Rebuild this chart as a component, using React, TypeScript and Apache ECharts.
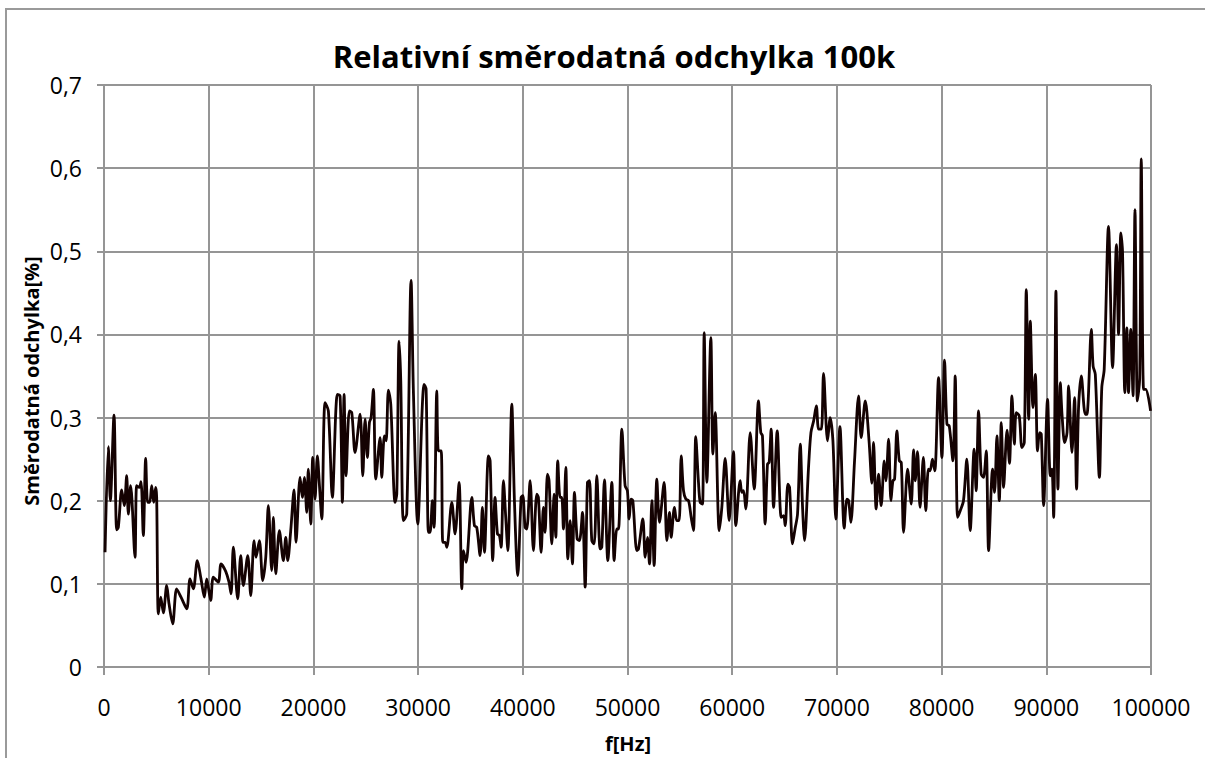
import React, { useEffect, useRef } from "react";
import * as echarts from "echarts";

const chartTitle = "Relativní směrodatná odchylka 100k";
const xAxisTitle = "f[Hz]";
const yAxisTitle = "Směrodatná odchylka[%]";

const freqs: number[] = [
  100, 415, 605, 955, 1210, 1370, 1690, 1940, 2165, 2325, 2545, 2960, 3120, 3370, 3535, 3755, 3980, 4170, 4360, 4555, 4745, 4935, 5030,
  5190, 5415, 5670, 5990, 6210, 6560, 6940, 7355, 7900, 8215, 8535, 8915, 9265, 9585, 9810, 10190, 10445, 10920, 11180, 11625,
  11940, 12135, 12355, 12770, 13060, 13310, 13730, 14015, 14330, 14520, 14840, 15160, 15450, 15700, 16015, 16175, 16405, 16750,
  17130, 17360, 17550, 17835, 18150, 18340, 18725, 18945, 19140, 19365, 19515, 19750, 19940, 20155, 20380, 20570, 20800, 21110,
  21430, 21810, 22290, 22550, 22770, 22930, 23120, 23435, 23665, 23980,
  24460, 24715, 24935, 25155, 25350, 25510, 25730, 25960, 26370, 26530, 26780, 26945, 27165, 27390, 27800, 27965, 28185, 28345,
  28595, 28915, 29330, 29550, 29970, 30570, 30765, 30985, 31140, 31365, 31530, 31785, 31940, 32200, 32360, 32580, 32740, 33220,
  33530, 33915, 34175, 34330, 34585, 35130, 35380, 35600, 35920, 36140, 36335,
  36720, 36880, 37130, 37350, 37580, 37770, 37930, 38150, 38370, 38570, 38950, 39200, 39520, 39840, 40000, 40220, 40380, 40700,
  41015, 41335, 41490, 41750, 41970, 42130, 42355, 42510, 42770, 42990, 43150, 43340, 43560, 43720, 43880, 44110, 44300, 44520,
  44740, 44935, 45190, 45410, 45700, 45955, 46175, 46365, 46590, 46815, 47070, 47385, 47545, 47800, 48120, 48505, 48725, 48980,
  49140, 49460,
  49770, 49990, 50160, 50350, 50510, 50890, 51050, 51465, 51690, 51910, 52100, 52330, 52545, 52800, 53055, 53500, 53755, 54010,
  54170, 54485, 54710, 54930, 55130, 55350, 55575, 55830, 56080, 56300, 56520, 56780, 56940, 57165, 57325, 57580, 57960, 58155,
  58375, 58760, 59010, 59330, 59710, 60120, 60350, 60760, 60920, 61080, 61300, 61720,
  62100, 62510, 62730, 62890, 63150, 63370, 63530, 63720, 63950, 64300, 64680, 64905, 65060, 65320, 65480, 65760, 66000, 66240,
  66500, 66720, 66910, 67290, 67520, 67780, 68035, 68260, 68515, 68725, 69105, 69360, 69620, 69900, 70290, 70700, 70955, 71120,
  71335, 71685, 72070, 72320, 72710, 73070, 73340, 73500, 73750,
  73980, 74230, 74520, 74680, 74940, 75160, 75350, 75510, 75730, 75960, 76150, 76370, 76750, 77100, 77320, 77480, 77700, 77940,
  78260, 78490, 78740, 78900, 79130, 79350, 79710, 80030, 80280, 80510, 80730, 81080, 81300, 81525, 81780, 82090, 82410, 82730,
  83110, 83300, 83530, 83780, 84000, 84260, 84490, 84870, 85060, 85285, 85510, 85700, 85920, 86250, 86480, 86720,
  86950, 87130, 87415, 87670, 87900, 88090, 88315, 88470, 88730, 88950, 89165, 89360, 89520, 89740, 90120, 90380, 90540, 90700,
  90920, 91110, 91340, 91500, 91750, 91980, 92130, 92450, 92700, 92890, 93080, 93340, 93720, 93880, 94300, 94470, 94680, 95070,
  95300, 95530, 95940, 96330, 96700, 96900, 97120, 97280, 97500, 97690, 97850, 98070, 98280, 98470, 98700, 98920, 99070, 99290,
  99500, 99960,
];

const deviation: number[] = [
  0.138, 0.265, 0.2, 0.303, 0.165, 0.168, 0.213, 0.194, 0.23, 0.184, 0.218, 0.132, 0.218, 0.216, 0.223, 0.158, 0.251, 0.198, 0.198, 0.218, 0.198, 0.216, 0.204,
  0.064, 0.084, 0.065, 0.098, 0.076, 0.052, 0.094, 0.084, 0.07, 0.106, 0.094, 0.128, 0.106, 0.084, 0.106, 0.08, 0.108, 0.102, 0.124, 0.115,
  0.102, 0.088, 0.144, 0.082, 0.134, 0.098, 0.134, 0.086, 0.152, 0.132, 0.152, 0.104, 0.132, 0.194, 0.116, 0.18, 0.112, 0.164,
  0.128, 0.156, 0.128, 0.164, 0.213, 0.15, 0.228, 0.204, 0.228, 0.186, 0.238, 0.172, 0.252, 0.202, 0.254, 0.22, 0.178, 0.318,
  0.308, 0.204, 0.328, 0.326, 0.198, 0.328, 0.23, 0.308, 0.306, 0.258,
  0.304, 0.23, 0.298, 0.252, 0.294, 0.3, 0.334, 0.226, 0.276, 0.228, 0.278, 0.272, 0.333, 0.316, 0.198, 0.208, 0.392, 0.344,
  0.176, 0.184, 0.465, 0.332, 0.172, 0.34, 0.334, 0.162, 0.162, 0.2, 0.168, 0.332, 0.26, 0.26, 0.15, 0.15, 0.144, 0.198,
  0.16, 0.222, 0.094, 0.14, 0.126, 0.204, 0.17, 0.168, 0.134, 0.192, 0.138,
  0.254, 0.248, 0.128, 0.204, 0.16, 0.158, 0.144, 0.224, 0.18, 0.14, 0.316, 0.2, 0.11, 0.204, 0.206, 0.168, 0.166, 0.224,
  0.14, 0.208, 0.204, 0.138, 0.192, 0.162, 0.232, 0.224, 0.148, 0.208, 0.156, 0.248, 0.204, 0.204, 0.166, 0.24, 0.13, 0.176,
  0.124, 0.21, 0.154, 0.152, 0.186, 0.096, 0.222, 0.224, 0.152, 0.148, 0.23, 0.142, 0.144, 0.225, 0.128, 0.222, 0.128, 0.166,
  0.166, 0.286,
  0.218, 0.212, 0.178, 0.202, 0.2, 0.14, 0.142, 0.178, 0.132, 0.156, 0.124, 0.2, 0.122, 0.226, 0.174, 0.222, 0.152, 0.186,
  0.156, 0.192, 0.176, 0.176, 0.254, 0.212, 0.202, 0.2, 0.18, 0.164, 0.277, 0.222, 0.198, 0.196, 0.402, 0.222, 0.396, 0.256,
  0.306, 0.164, 0.192, 0.251, 0.176, 0.259, 0.17, 0.224, 0.21, 0.212, 0.19, 0.282,
  0.214, 0.32, 0.282, 0.278, 0.172, 0.244, 0.246, 0.286, 0.192, 0.284, 0.18, 0.182, 0.17, 0.22, 0.216, 0.148, 0.166, 0.184,
  0.268, 0.192, 0.152, 0.24, 0.282, 0.296, 0.314, 0.286, 0.286, 0.353, 0.272, 0.3, 0.272, 0.178, 0.289, 0.167, 0.202, 0.2,
  0.174, 0.248, 0.326, 0.276, 0.32, 0.272, 0.221, 0.27, 0.19,
  0.232, 0.194, 0.248, 0.224, 0.274, 0.2, 0.224, 0.226, 0.284, 0.248, 0.246, 0.162, 0.238, 0.196, 0.261, 0.224, 0.259, 0.192,
  0.252, 0.188, 0.238, 0.236, 0.25, 0.236, 0.348, 0.252, 0.369, 0.292, 0.29, 0.248, 0.35, 0.18, 0.188, 0.2, 0.25, 0.164,
  0.262, 0.212, 0.308, 0.232, 0.228, 0.26, 0.14, 0.238, 0.21, 0.278, 0.2, 0.294, 0.216, 0.285, 0.245, 0.326,
  0.268, 0.306, 0.302, 0.264, 0.27, 0.454, 0.298, 0.416, 0.312, 0.352, 0.26, 0.282, 0.28, 0.194, 0.322, 0.23, 0.238, 0.18,
  0.452, 0.214, 0.342, 0.304, 0.27, 0.282, 0.338, 0.258, 0.324, 0.214, 0.312, 0.35, 0.304, 0.304, 0.406, 0.362, 0.352, 0.228,
  0.336, 0.358, 0.53, 0.36, 0.508, 0.4, 0.522, 0.5, 0.33, 0.408, 0.33, 0.406, 0.326, 0.55, 0.32, 0.348, 0.611, 0.334,
  0.334, 0.308,
];

const FONT = "'Open Sans', 'Noto Sans', sans-serif";

export default function App() {
  const ref = useRef<HTMLDivElement>(null);
  useEffect(() => {
    if (!ref.current) return;
    const chart = echarts.init(ref.current, null, { renderer: "svg" });
    const data = freqs.map((f, i) => [f, deviation[i]]);
    const gridColor = "#959595";
    chart.setOption({
      animation: false,
      backgroundColor: "#ffffff",
      grid: { left: 104, right: 54, top: 85, bottom: 91, containLabel: false },
      xAxis: {
        type: "value",
        min: 0,
        max: 100000,
        interval: 10000,
        axisLine: { show: true, onZero: false, lineStyle: { color: gridColor, width: 2 } },
        axisTick: { show: true, inside: false, length: 8, lineStyle: { color: gridColor, width: 2 } },
        splitLine: { show: true, lineStyle: { color: gridColor, width: 2 } },
        axisLabel: {
          color: "#000",
          fontSize: 23,
          fontFamily: FONT,
          margin: 28,
          formatter: (v: number) => String(Math.round(v)),
        },
      },
      yAxis: {
        type: "value",
        min: 0,
        max: 0.7,
        interval: 0.1,
        axisLine: { show: true, lineStyle: { color: gridColor, width: 2 } },
        axisTick: { show: true, inside: false, length: 7, lineStyle: { color: gridColor, width: 2 } },
        splitLine: { show: true, lineStyle: { color: gridColor, width: 2 } },
        axisLabel: {
          color: "#000",
          fontSize: 23,
          fontFamily: FONT,
          margin: 22,
          formatter: (v: number) => (v === 0 ? "0" : v.toFixed(1).replace(".", ",")),
        },
      },
      series: [
        {
          type: "line",
          data,
          showSymbol: false,
          smooth: 0.3,
          lineStyle: { color: "#140202", width: 2.8 },
        },
      ],
      graphic: [
        {
          type: "rect",
          shape: { x: 6, y: 9, width: 1300, height: 900 },
          style: { fill: "none", stroke: "#9a9a9a", lineWidth: 2 },
          silent: true,
        },
        {
          type: "text",
          x: 614,
          y: 56,
          style: {
            text: chartTitle,
            align: "center",
            verticalAlign: "middle",
            font: `bold 31px ${FONT}`,
            fill: "#000",
          },
        },
        {
          type: "text",
          x: 628,
          y: 743,
          style: {
            text: xAxisTitle,
            align: "center",
            verticalAlign: "middle",
            font: `bold 20px ${FONT}`,
            fill: "#000",
          },
        },
        {
          type: "text",
          x: 31,
          y: 381,
          rotation: Math.PI / 2,
          style: {
            text: yAxisTitle,
            align: "center",
            verticalAlign: "middle",
            font: `bold 20px ${FONT}`,
            fill: "#000",
          },
        },
      ],
    });
    return () => chart.dispose();
  }, []);
  return (
    <div
      ref={ref}
      style={{ position: "fixed", left: 0, top: 0, width: 1205, height: 758, background: "#fff" }}
    />
  );
}
